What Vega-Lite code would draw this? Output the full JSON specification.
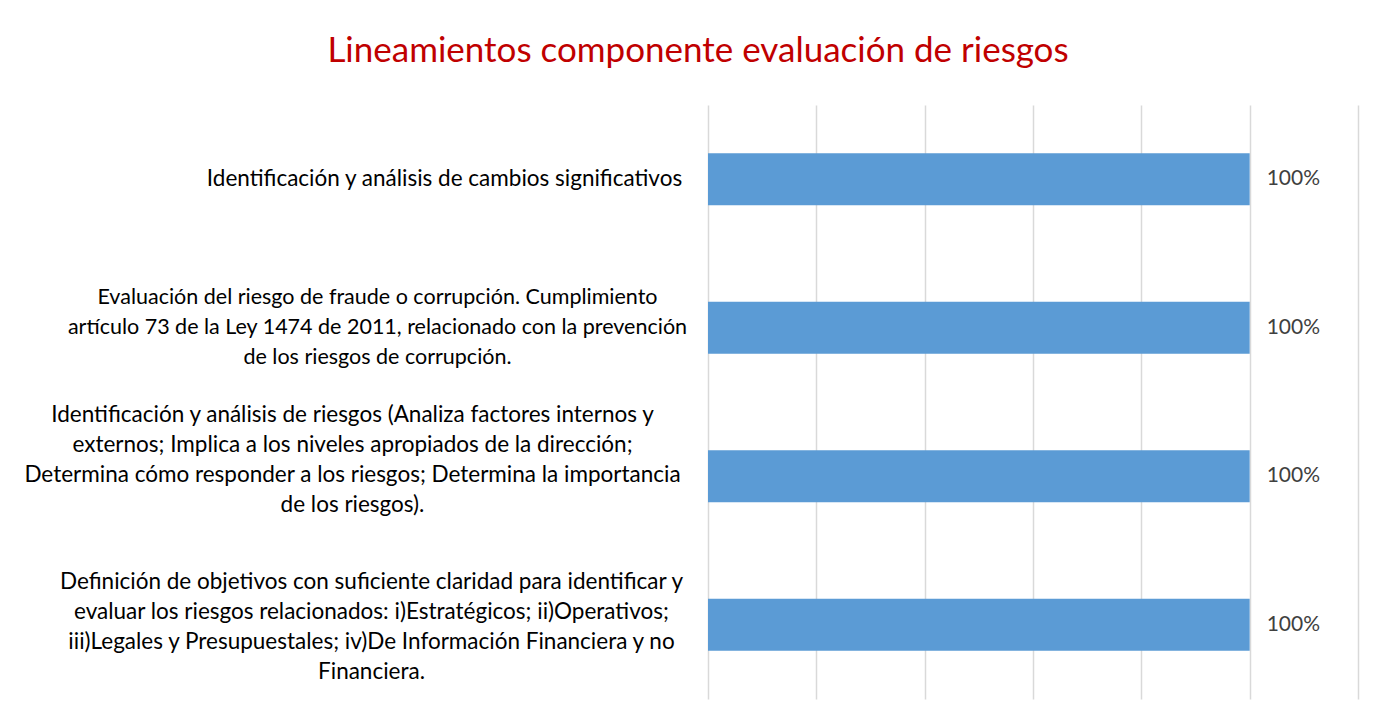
{
  "$schema": "https://vega.github.io/schema/vega-lite/v6.json",
  "autosize": {"type": "none"},
  "width": 650,
  "height": 594,
  "padding": {"left": 708, "top": 105, "right": 21, "bottom": 22},
  "background": "white",
  "title": {
    "text": "Lineamientos componente evaluación de riesgos",
    "color": "#C00000",
    "font": "Lato",
    "fontSize": 35,
    "fontWeight": "normal",
    "anchor": "middle",
    "frame": "group",
    "baseline": "alphabetic",
    "offset": 8,
    "dx": -335
  },
  "data": {
    "values": [
      {"componente": "Identificación y análisis de cambios significativos", "valor": 1.0},
      {"componente": "Evaluación del riesgo de fraude o corrupción.  Cumplimiento|artículo 73 de la Ley 1474 de 2011, relacionado con la prevención|de los riesgos de corrupción.", "valor": 1.0},
      {"componente": "Identificación y análisis de riesgos (Analiza factores internos y|externos; Implica a los niveles apropiados de la dirección;|Determina cómo responder a los riesgos; Determina la importancia|de los riesgos).", "valor": 1.0},
      {"componente": "Definición de objetivos con suficiente claridad para identificar y|evaluar los riesgos relacionados: i)Estratégicos; ii)Operativos;|iii)Legales y Presupuestales; iv)De Información Financiera y no|Financiera.", "valor": 1.0}
    ]
  },
  "encoding": {
    "y": {
      "field": "componente",
      "type": "nominal",
      "sort": null,
      "scale": {"paddingInner": 0.65, "paddingOuter": 0.325},
      "axis": {
        "title": null,
        "domain": false,
        "ticks": false,
        "labelExpr": "split(datum.label, '|')",
        "labelFont": "Lato",
        "labelFontSize": {
          "condition": {"test": "indexof(datum.value, 'fraude') >= 0", "value": 21.5},
          "value": 22.5
        },
        "labelColor": "#000000",
        "labelLineHeight": 30,
        "labelAlign": "center",
        "labelBaseline": "middle",
        "labelLimit": 0,
        "labelPadding": {
          "condition": [
            {"test": "indexof(datum.value, 'cambios') >= 0", "value": 264},
            {"test": "indexof(datum.value, 'fraude') >= 0", "value": 331},
            {"test": "indexof(datum.value, 'Analiza') >= 0", "value": 356}
          ],
          "value": 337
        },
        "labelOffset": {
          "condition": [
            {"test": "indexof(datum.value, 'cambios') >= 0", "value": 0},
            {"test": "indexof(datum.value, 'fraude') >= 0", "value": -30},
            {"test": "indexof(datum.value, 'Analiza') >= 0", "value": -61}
          ],
          "value": -43
        }
      }
    },
    "x": {
      "field": "valor",
      "type": "quantitative",
      "scale": {"domain": [0, 1.2], "nice": false},
      "axis": {
        "title": null,
        "labels": false,
        "ticks": false,
        "domain": false,
        "values": [0, 0.2, 0.4, 0.6, 0.8, 1.0, 1.2],
        "grid": true,
        "gridColor": "#D9D9D9",
        "gridWidth": 1.5
      }
    }
  },
  "layer": [
    {"mark": {"type": "bar", "color": "#5B9BD5"}},
    {
      "mark": {"type": "text", "align": "left", "baseline": "middle", "dx": 17, "font": "Lato", "fontSize": 21, "color": "#404040"},
      "encoding": {"text": {"field": "valor", "type": "quantitative", "format": ".0%"}}
    }
  ],
  "config": {"view": {"stroke": null}}
}
